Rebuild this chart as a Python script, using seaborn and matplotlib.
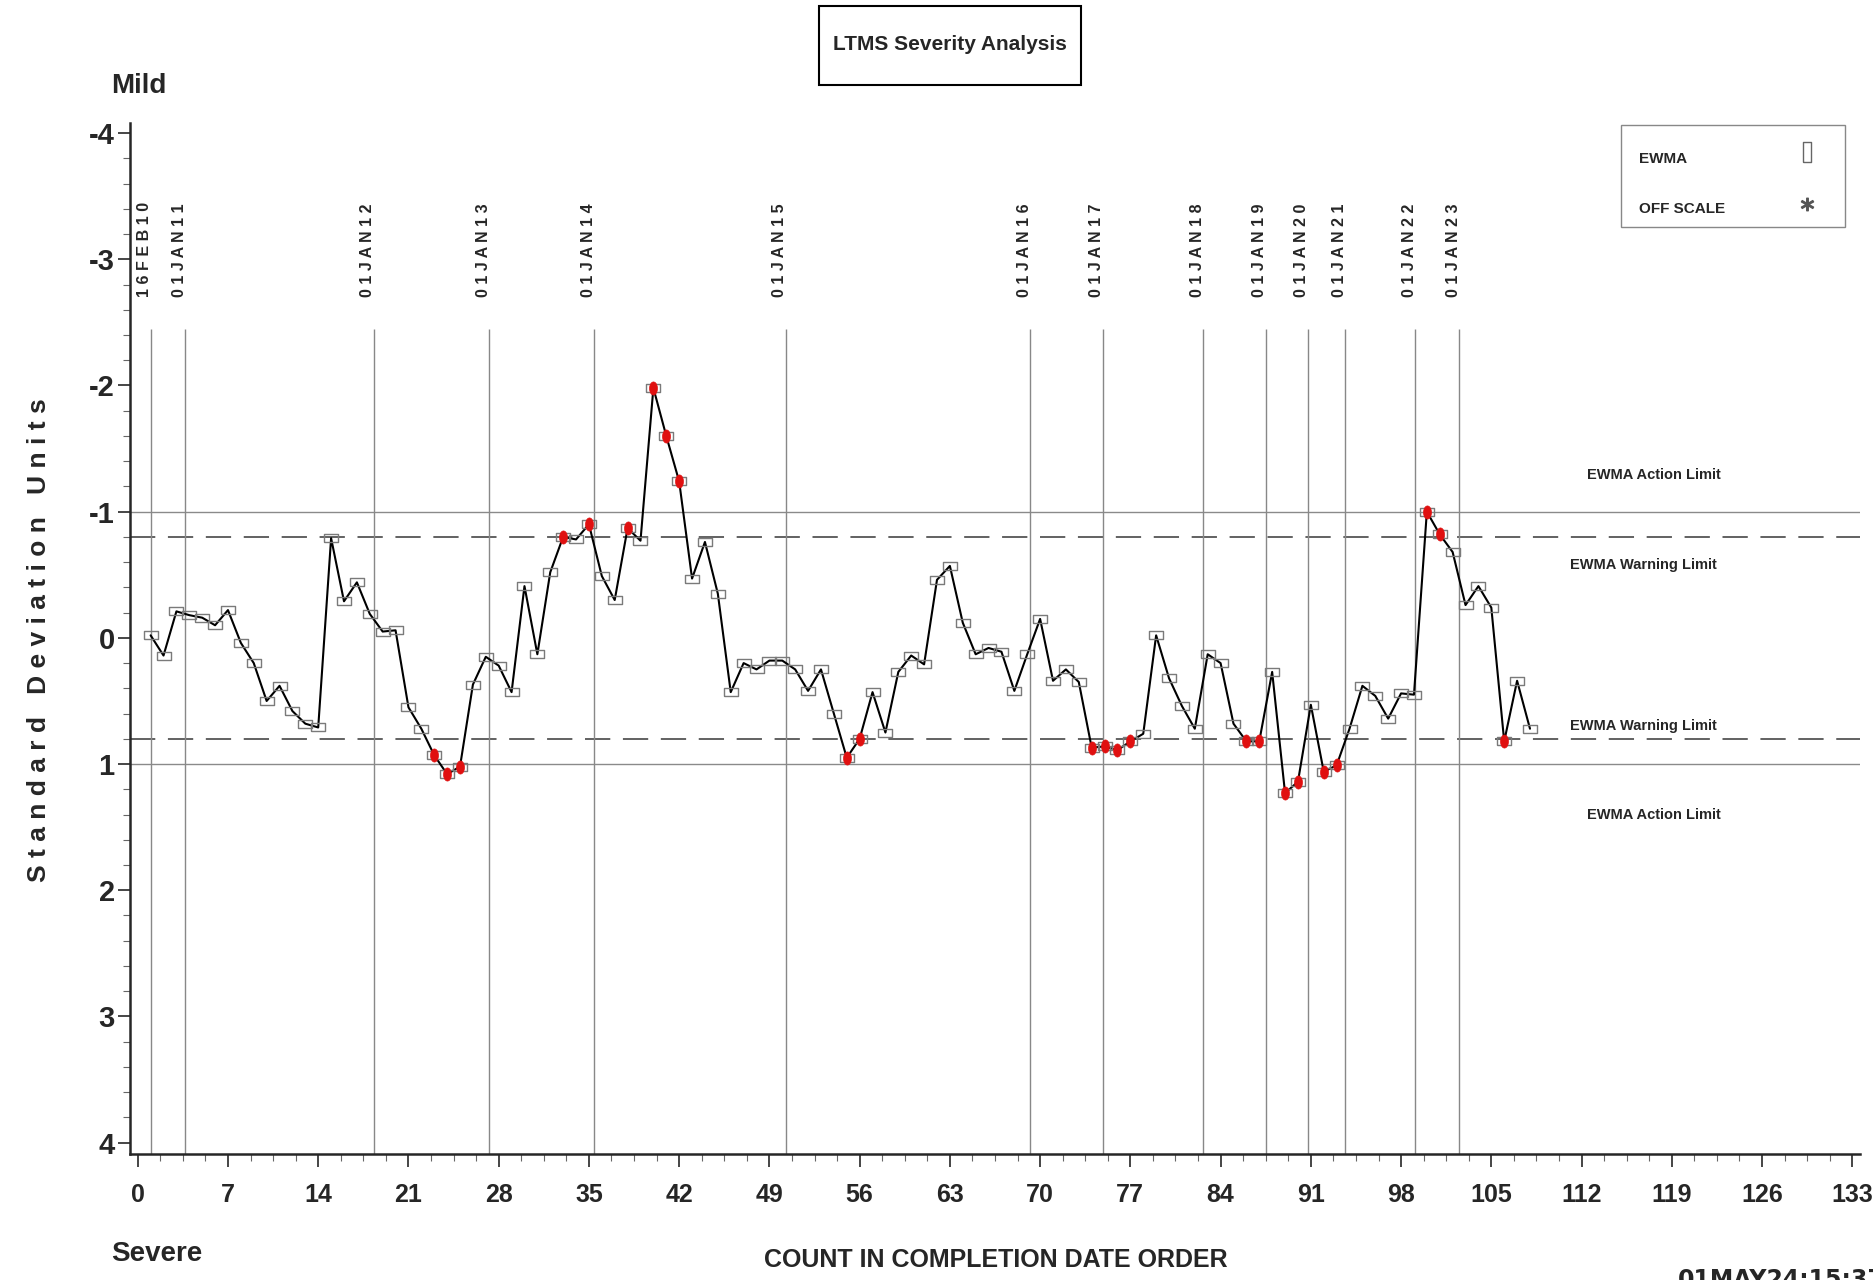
import numpy as np
import pandas as pd
import seaborn as sns
import matplotlib.pyplot as plt
from matplotlib.lines import Line2D
from matplotlib.patches import Rectangle
from matplotlib.ticker import MultipleLocator


# EWMA values in completion order (test 1..108)
ewma = [-0.02, 0.14, -0.21, -0.18, -0.16, -0.10, -0.22, 0.04, 0.20, 0.50,
        0.38, 0.58, 0.68, 0.71, -0.79, -0.29, -0.44, -0.19, -0.05, -0.06,
        0.55, 0.72, 0.93, 1.08, 1.02, 0.37, 0.15, 0.22, 0.43, -0.41,
        0.13, -0.52, -0.80, -0.78, -0.90, -0.49, -0.30, -0.87, -0.77, -1.98,
        -1.60, -1.24, -0.47, -0.76, -0.35, 0.43, 0.20, 0.25, 0.18, 0.18,
        0.25, 0.42, 0.25, 0.60, 0.95, 0.80, 0.43, 0.75, 0.27, 0.14,
        0.21, -0.46, -0.57, -0.12, 0.13, 0.08, 0.11, 0.42, 0.13, -0.15,
        0.34, 0.25, 0.35, 0.87, 0.86, 0.89, 0.82, 0.76, -0.02, 0.32,
        0.54, 0.72, 0.13, 0.20, 0.68, 0.82, 0.82, 0.27, 1.23, 1.14,
        0.53, 1.06, 1.01, 0.72, 0.38, 0.46, 0.64, 0.44, 0.45, -1.00,
        -0.82, -0.68, -0.26, -0.41, -0.24, 0.82, 0.34, 0.72]

# date reference lines
date_pos = [1.0, 3.67, 18.3, 27.27, 35.38, 50.25, 69.25, 74.85, 82.65,
            87.5, 90.75, 93.65, 99.1, 102.5]
date_labels = ['16FEB10', '01JAN11', '01JAN12', '01JAN13', '01JAN14',
               '01JAN15', '01JAN16', '01JAN17', '01JAN18', '01JAN19',
               '01JAN20', '01JAN21', '01JAN22', '01JAN23']

legend_labels = ['EWMA', 'OFF SCALE']

action_limit = 1.0
warning_limit = 0.8

df = pd.DataFrame({'count': np.arange(1, len(ewma) + 1), 'ewma': ewma})
df['flag'] = df['ewma'].abs() >= warning_limit

sns.set_style('ticks')
plt.rcParams['axes.unicode_minus'] = False
FONT = ['Liberation Sans', 'DejaVu Sans']
plt.rcParams['font.family'] = FONT

W, H = 1873, 1280
fig = plt.figure(figsize=(W / 100, H / 100), dpi=100)
ax = fig.add_axes([130 / W, 1 - 1154 / H, (1860 - 130) / W, (1154 - 123) / H])

# reference lines
for lim in (-action_limit, action_limit):
    ax.axhline(lim, color='#8a8a8a', lw=1.0, zorder=1)
for lim in (-warning_limit, warning_limit):
    ax.axhline(lim, color='#555555', lw=1.3, dashes=(14, 7), zorder=1)
ax.vlines(date_pos, -2.45, 4.09, color='#888888', lw=1.0, zorder=1)

for p, lab in zip(date_pos, date_labels):
    ax.text(p - 0.45, -2.7, ' '.join(lab), rotation=90, ha='center', va='bottom',
            fontsize=11.5, fontweight='bold')

# EWMA line with hollow box markers
rect = [(-1.8, -1), (1.8, -1), (1.8, 1), (-1.8, 1), (-1.8, -1)]
sns.lineplot(data=df, x='count', y='ewma', color='black', lw=1.5, errorbar=None,
             marker=rect, markersize=10, markerfacecolor='none',
             markeredgecolor='#7a7a7a', markeredgewidth=1.0, ax=ax, zorder=4)

t = np.linspace(0, 2 * np.pi, 25)
blob = np.column_stack([0.6 * np.cos(t), np.sin(t)])
sns.scatterplot(data=df[df['flag']], x='count', y='ewma', marker=blob, s=90,
                color='#e01010', edgecolor='#e01010', linewidth=0.5, ax=ax, zorder=5)

ax.set_xlim(-0.6, 133.6)
ax.set_ylim(4.09, -4.08)
ax.xaxis.set_major_locator(MultipleLocator(7))
ax.xaxis.set_minor_locator(MultipleLocator(1.75))
ax.yaxis.set_major_locator(MultipleLocator(1))
ax.yaxis.set_minor_locator(MultipleLocator(0.2))
ax.tick_params(which='major', direction='out', length=9, width=1.2)
ax.tick_params(axis='x', which='major', pad=12, labelsize=18)
ax.tick_params(axis='y', which='major', pad=2, labelsize=21)
ax.tick_params(which='minor', direction='out', length=5, width=0.8, color='#666666')
for lab in ax.get_xticklabels() + ax.get_yticklabels():
    lab.set_fontweight('bold')
ax.set_xlabel('')
ax.set_ylabel('')
sns.despine(ax=ax)
ax.spines['left'].set_linewidth(1.8)
ax.spines['bottom'].set_linewidth(1.8)

# limit labels
ax.text(112.4, -1.29, 'EWMA Action Limit', fontsize=10.5, fontweight='bold', va='center')
ax.text(111.1, -0.58, 'EWMA Warning Limit', fontsize=10.5, fontweight='bold', va='center')
ax.text(111.1, 0.70, 'EWMA Warning Limit', fontsize=10.5, fontweight='bold', va='center')
ax.text(112.4, 1.40, 'EWMA Action Limit', fontsize=10.5, fontweight='bold', va='center')

# legend box, labels left aligned and symbols in a column on the right
fig.add_artist(Rectangle((1621 / W, 1 - 227 / H), 224 / W, 102 / H, transform=fig.transFigure,
                         facecolor='white', edgecolor='#888888', lw=1.0))
fig.text(1639 / W, 1 - 159 / H, legend_labels[0], va='center', fontsize=11, fontweight='bold')
fig.text(1639 / W, 1 - 209 / H, legend_labels[1], va='center', fontsize=11, fontweight='bold')
fig.add_artist(Line2D([1807 / W], [1 - 152 / H], transform=fig.transFigure, ls='none',
                      marker=[(-0.4, -1), (0.4, -1), (0.4, 1), (-0.4, 1), (-0.4, -1)],
                      markersize=14, markerfacecolor='none', markeredgecolor='#666666'))
fig.add_artist(Line2D([1807 / W], [1 - 204 / H], transform=fig.transFigure, ls='none',
                      marker='$*$', markersize=9, color='#555555'))

# title box
fig.add_artist(Rectangle((819 / W, 1 - 85 / H), 262 / W, 79 / H, transform=fig.transFigure,
                         facecolor='white', edgecolor='black', lw=1.5))
fig.text(950 / W, 1 - 45 / H, 'LTMS Severity Analysis', ha='center', va='center',
         fontsize=15, fontweight='bold')

fig.text(111 / W, 1 - 86 / H, 'Mild', ha='left', va='center', fontsize=20, fontweight='bold')
fig.text(111 / W, 1 - 1254 / H, 'Severe', ha='left', va='center', fontsize=20, fontweight='bold')
fig.text(996 / W, 1 - 1260 / H, 'COUNT IN COMPLETION DATE ORDER', ha='center', va='center',
         fontsize=18, fontweight='bold')
fig.text(39 / W, 0.5, '   '.join(' '.join(w) for w in 'Standard Deviation Units'.split()),
         rotation=90, ha='center', va='center', fontsize=19, fontweight='bold')
fig.text(1678 / W, 12 / H, '01MAY24:15:37', ha='left', va='top', fontsize=17,
         fontweight='bold', family=['DejaVu Sans'])

fig.savefig('out.png', dpi=100)
